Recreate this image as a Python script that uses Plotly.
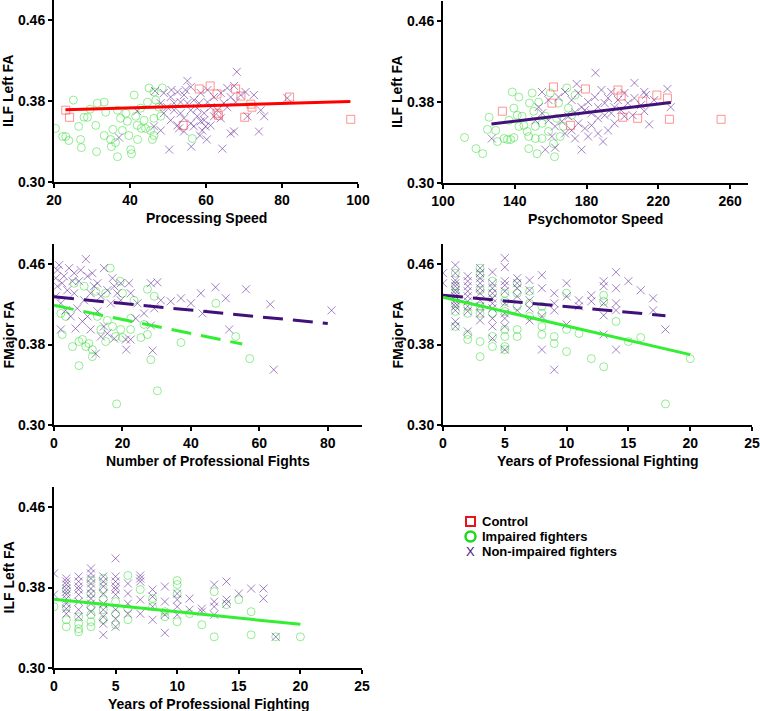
import plotly.graph_objects as go

# ---- Panel 1: Processing Speed vs ILF Left FA ----
p1_control = [(23.1, 0.371), (24.1, 0.364), (58.2, 0.392), (61.1, 0.395), (62.9, 0.387),
              (67.8, 0.392), (69.2, 0.385), (71.8, 0.377), (72.1, 0.374), (70.2, 0.364),
              (62.9, 0.368), (82.0, 0.384), (98.1, 0.362), (54.0, 0.356), (63.3, 0.366)]
p1_impaired = [(20.4, 0.353), (23.1, 0.345), (23.9, 0.341), (25.1, 0.381), (27.0, 0.342),
               (27.2, 0.334), (27.9, 0.364), (28.8, 0.364), (31.0, 0.356), (31.2, 0.330),
               (31.4, 0.378), (33.2, 0.379), (33.2, 0.346), (33.6, 0.369), (34.9, 0.342),
               (35.1, 0.335), (36.2, 0.339), (36.7, 0.325), (36.7, 0.371), (37.5, 0.363),
               (38.0, 0.351), (38.9, 0.368), (39.3, 0.360), (39.7, 0.346), (40.2, 0.332),
               (40.4, 0.328), (41.1, 0.386), (41.5, 0.365), (41.9, 0.356), (42.8, 0.373),
               (43.0, 0.353), (43.7, 0.361), (44.1, 0.353), (44.6, 0.379), (45.0, 0.393),
               (45.4, 0.351), (45.9, 0.342), (46.3, 0.346), (46.8, 0.381), (46.3, 0.389),
               (47.6, 0.374), (48.1, 0.365), (48.5, 0.393), (46.3, 0.363), (56.4, 0.343),
               (22.3, 0.345), (26.5, 0.355), (29.5, 0.372), (35.5, 0.352), (42.0, 0.342)]
p1_nonimpaired = [(68.1, 0.409), (55.1, 0.400), (46.6, 0.390), (48.9, 0.388), (50.7, 0.384),
                  (52.5, 0.389), (54.2, 0.386), (56.0, 0.394), (56.8, 0.381), (58.6, 0.388),
                  (60.4, 0.391), (62.1, 0.384), (63.9, 0.388), (65.6, 0.393), (66.5, 0.384),
                  (67.8, 0.379), (69.1, 0.386), (72.6, 0.386), (74.4, 0.371), (75.3, 0.365),
                  (73.9, 0.350), (70.9, 0.365), (81.4, 0.383), (66.5, 0.348), (67.4, 0.350),
                  (64.3, 0.333), (60.2, 0.342), (58.4, 0.346), (56.1, 0.335), (50.3, 0.332),
                  (48.1, 0.351), (46.3, 0.355), (49.8, 0.374), (51.6, 0.371), (53.3, 0.368),
                  (50.7, 0.361), (52.5, 0.356), (54.2, 0.363), (56.0, 0.358), (57.7, 0.365),
                  (58.6, 0.360), (59.9, 0.355), (59.0, 0.351), (57.7, 0.373), (59.5, 0.368),
                  (61.2, 0.374), (63.0, 0.371), (64.7, 0.378), (65.6, 0.374), (63.9, 0.363),
                  (62.1, 0.365), (60.4, 0.379), (55.1, 0.378), (53.3, 0.379), (51.6, 0.378),
                  (48.9, 0.368), (48.1, 0.378), (56.0, 0.371), (54.2, 0.350), (52.9, 0.353),
                  (56.8, 0.355), (41.9, 0.370), (37.1, 0.344), (67.4, 0.395), (70.4, 0.389),
                  (61.2, 0.356), (59.5, 0.361), (58.2, 0.378), (54.6, 0.391), (50.9, 0.391)]
p1_fit_x = [23, 98]
p1_fit_y = [0.3715, 0.3795]

# ---- Panel 2: Psychomotor Speed vs ILF Left FA ----
p2_control = [(133.1, 0.371), (161.6, 0.395), (160.7, 0.379), (179.4, 0.393), (197.5, 0.392),
              (199.3, 0.386), (200.2, 0.365), (208.5, 0.364), (211.3, 0.381), (219.2, 0.387),
              (225.1, 0.384), (226.2, 0.363), (255.0, 0.363), (171.0, 0.357)]
p2_impaired = [(112.0, 0.345), (118.4, 0.334), (122.1, 0.329), (125.7, 0.365), (124.8, 0.353),
               (129.4, 0.352), (130.3, 0.341), (134.0, 0.344), (135.9, 0.343), (137.7, 0.343),
               (139.5, 0.345), (138.6, 0.390), (139.5, 0.374), (141.4, 0.367), (142.3, 0.385),
               (144.1, 0.366), (145.1, 0.357), (146.9, 0.351), (147.8, 0.334), (148.2, 0.379),
               (149.7, 0.389), (150.6, 0.371), (151.5, 0.344), (152.4, 0.329), (153.3, 0.380),
               (155.2, 0.359), (157.0, 0.366), (158.8, 0.351), (159.8, 0.389), (161.6, 0.339),
               (162.2, 0.326), (163.4, 0.364), (164.4, 0.379), (165.3, 0.346), (167.1, 0.356),
               (169.0, 0.394), (169.9, 0.374), (171.7, 0.367), (173.6, 0.387), (142.3, 0.356),
               (136.8, 0.362), (147.8, 0.346), (155.2, 0.344), (151.5, 0.356)]
p2_nonimpaired = [(127.2, 0.344), (185.0, 0.409), (174.5, 0.398), (206.7, 0.399), (225.1, 0.393),
                  (226.9, 0.375), (214.9, 0.358), (155.2, 0.390), (157.0, 0.333), (162.5, 0.335),
                  (177.2, 0.333), (189.2, 0.341), (180.9, 0.346), (186.4, 0.349), (192.0, 0.352),
                  (195.6, 0.359), (199.3, 0.372), (203.0, 0.379), (206.7, 0.384), (210.3, 0.377),
                  (213.1, 0.387), (212.2, 0.371), (205.7, 0.367), (201.1, 0.366), (195.6, 0.375),
                  (192.0, 0.384), (188.3, 0.392), (184.6, 0.385), (180.9, 0.380), (177.2, 0.375),
                  (173.6, 0.370), (169.9, 0.366), (166.2, 0.361), (162.5, 0.356), (158.8, 0.362),
                  (155.2, 0.369), (153.3, 0.375), (158.8, 0.382), (164.4, 0.385), (168.0, 0.390),
                  (171.7, 0.382), (175.4, 0.389), (179.1, 0.372), (182.8, 0.369), (186.4, 0.364),
                  (190.1, 0.367), (193.8, 0.369), (197.5, 0.382), (182.8, 0.357), (179.1, 0.354),
                  (175.4, 0.359), (171.7, 0.352), (168.0, 0.349), (173.6, 0.344), (151.5, 0.362),
                  (160.7, 0.346), (190.1, 0.379), (186.4, 0.375), (193.8, 0.390), (201.1, 0.389),
                  (212.2, 0.390), (217.7, 0.382)]
p2_fit_x = [127, 227]
p2_fit_y = [0.3583, 0.3797]

# ---- Panel 3: Number of Professional Fights vs FMajor FA ----
p3_impaired = [(16.4, 0.456), (19.3, 0.443), (20.0, 0.431), (15.1, 0.431), (12.2, 0.433),
               (8.8, 0.438), (5.9, 0.441), (2.0, 0.411), (3.4, 0.408), (2.4, 0.390),
               (8.3, 0.385), (7.3, 0.383), (5.4, 0.378), (9.3, 0.378), (10.2, 0.381),
               (11.2, 0.375), (11.2, 0.368), (7.3, 0.359), (15.1, 0.383), (18.0, 0.388),
               (20.0, 0.387), (22.4, 0.395), (25.4, 0.387), (27.3, 0.390), (28.3, 0.365),
               (30.2, 0.334), (37.1, 0.382), (47.3, 0.421), (53.1, 0.388), (57.2, 0.366),
               (27.3, 0.435), (29.3, 0.428), (23.4, 0.424), (17.1, 0.398), (15.6, 0.404),
               (12.7, 0.408), (22.4, 0.406), (26.3, 0.400), (13.7, 0.395), (19.5, 0.395),
               (18.3, 0.321)]
p3_nonimpaired = [(9.3, 0.465), (1.5, 0.459), (1.0, 0.454), (2.9, 0.448), (4.4, 0.456),
                  (5.9, 0.451), (7.3, 0.443), (7.8, 0.454), (11.2, 0.451), (12.7, 0.441),
                  (14.6, 0.456), (17.1, 0.446), (17.6, 0.438), (19.5, 0.441), (21.9, 0.441),
                  (22.4, 0.431), (28.3, 0.441), (30.2, 0.442), (34.1, 0.423), (37.1, 0.426),
                  (40.0, 0.421), (42.9, 0.431), (43.4, 0.411), (47.2, 0.437), (50.2, 0.426),
                  (56.1, 0.435), (63.2, 0.420), (81.1, 0.414), (51.2, 0.395), (64.2, 0.355),
                  (28.8, 0.374), (21.1, 0.375), (12.2, 0.371), (6.3, 0.396), (2.0, 0.395),
                  (9.8, 0.408), (12.7, 0.413), (14.6, 0.398), (15.6, 0.391), (17.6, 0.386),
                  (21.0, 0.385), (23.9, 0.406), (26.3, 0.411), (28.3, 0.399), (29.3, 0.416),
                  (31.2, 0.424), (24.4, 0.421), (19.5, 0.424), (16.6, 0.421), (13.7, 0.428),
                  (10.7, 0.431), (8.8, 0.424), (5.9, 0.431), (3.9, 0.434), (2.4, 0.441),
                  (1.0, 0.438), (0.5, 0.446), (2.0, 0.421), (3.4, 0.414), (4.9, 0.408),
                  (8.3, 0.403), (10.7, 0.395), (13.7, 0.388), (6.8, 0.416), (0.5, 0.428),
                  (5.4, 0.443), (9.8, 0.448), (11.7, 0.438), (15.6, 0.434), (18.5, 0.431),
                  (22.4, 0.385)]
p3_fit_nonimp_x = [0, 80]
p3_fit_nonimp_y = [0.4275, 0.401]
p3_fit_imp_x = [0, 55]
p3_fit_imp_y = [0.419, 0.3805]

# ---- Panel 4: Years of Professional Fighting vs FMajor FA ----
p4_impaired = [(1, 0.451), (1, 0.438), (1, 0.431), (1, 0.421), (1, 0.413), (1, 0.398),
               (2, 0.419), (2, 0.411), (2, 0.390), (2, 0.385),
               (3, 0.456), (3, 0.449), (3, 0.434), (3, 0.418), (3, 0.411), (3, 0.383), (3, 0.368),
               (4, 0.443), (4, 0.431), (4, 0.411), (4, 0.388), (4, 0.378),
               (5, 0.431), (5, 0.423), (5, 0.413), (5, 0.395), (5, 0.388), (5, 0.378), (5, 0.375),
               (6, 0.441), (6, 0.431), (6, 0.418), (6, 0.395), (6, 0.388),
               (7, 0.433), (7, 0.421), (7, 0.408),
               (8, 0.418), (8, 0.411), (8, 0.398), (8, 0.390),
               (9, 0.388), (9, 0.381), (10, 0.431), (10, 0.395), (10, 0.373),
               (11, 0.391), (12, 0.366), (13, 0.429), (13, 0.423), (13, 0.358),
               (14, 0.403), (15, 0.383), (16, 0.387), (18, 0.321), (20, 0.366)]
p4_nonimpaired = [(0, 0.451), (0, 0.441),
                  (1, 0.459), (1, 0.451), (1, 0.444), (1, 0.441), (1, 0.438), (1, 0.434), (1, 0.431),
                  (1, 0.428), (1, 0.424), (1, 0.421), (1, 0.418), (1, 0.414), (1, 0.403), (1, 0.398),
                  (2, 0.448), (2, 0.443), (2, 0.438), (2, 0.433), (2, 0.428), (2, 0.423), (2, 0.418),
                  (2, 0.413), (2, 0.393),
                  (3, 0.456), (3, 0.451), (3, 0.446), (3, 0.441), (3, 0.436), (3, 0.431), (3, 0.424),
                  (3, 0.418), (3, 0.411), (3, 0.404),
                  (4, 0.452), (4, 0.441), (4, 0.436), (4, 0.431), (4, 0.426), (4, 0.421), (4, 0.416),
                  (4, 0.406), (4, 0.398), (4, 0.386),
                  (5, 0.466), (5, 0.457), (5, 0.443), (5, 0.439), (5, 0.433), (5, 0.421), (5, 0.411),
                  (5, 0.406), (5, 0.398), (5, 0.375),
                  (6, 0.446), (6, 0.441), (6, 0.436), (6, 0.428), (6, 0.414),
                  (7, 0.444), (7, 0.434), (7, 0.424), (7, 0.416), (7, 0.404),
                  (8, 0.449), (8, 0.436), (8, 0.408), (8, 0.375),
                  (9, 0.431), (9, 0.421), (9, 0.414), (9, 0.355),
                  (10, 0.441), (10, 0.428), (10, 0.400), (11, 0.424), (11, 0.418),
                  (12, 0.429), (12, 0.423),
                  (13, 0.443), (13, 0.438), (13, 0.421), (13, 0.409), (13, 0.390),
                  (14, 0.452), (14, 0.436), (14, 0.421), (14, 0.414), (14, 0.375),
                  (15, 0.443), (16, 0.434), (17, 0.426), (17, 0.414), (18, 0.395)]
p4_fit_nonimp_x = [0, 18]
p4_fit_nonimp_y = [0.429, 0.4087]
p4_fit_imp_x = [0, 20]
p4_fit_imp_y = [0.427, 0.370]

# ---- Panel 5: Years of Professional Fighting vs ILF Left FA ----
p5_impaired = [(0, 0.361), (1, 0.378), (1, 0.361), (1, 0.348), (1, 0.341),
               (2, 0.351), (2, 0.344), (2, 0.339), (2, 0.336),
               (3, 0.387), (3, 0.374), (3, 0.361), (3, 0.353), (3, 0.346), (3, 0.341),
               (4, 0.389), (4, 0.378), (4, 0.368), (4, 0.358), (4, 0.348),
               (5, 0.366), (5, 0.354), (5, 0.343), (6, 0.392), (6, 0.359), (6, 0.348),
               (7, 0.378), (8, 0.369), (8, 0.361), (9, 0.356), (9, 0.351),
               (10, 0.387), (10, 0.383), (10, 0.374), (10, 0.346), (11, 0.354), (12, 0.343),
               (13, 0.376), (13, 0.331), (14, 0.363), (15, 0.368), (16, 0.356), (16, 0.333),
               (18, 0.331), (20, 0.331)]
p5_nonimpaired = [(0, 0.394), (0, 0.373),
                  (1, 0.389), (1, 0.386), (1, 0.383), (1, 0.379), (1, 0.376), (1, 0.373), (1, 0.369),
                  (1, 0.364), (1, 0.359), (1, 0.354),
                  (2, 0.391), (2, 0.386), (2, 0.381), (2, 0.378), (2, 0.373), (2, 0.366), (2, 0.358),
                  (2, 0.351),
                  (3, 0.399), (3, 0.394), (3, 0.389), (3, 0.384), (3, 0.379), (3, 0.374), (3, 0.369),
                  (3, 0.364), (3, 0.356),
                  (4, 0.391), (4, 0.386), (4, 0.381), (4, 0.374), (4, 0.364), (4, 0.358), (4, 0.351),
                  (4, 0.344), (4, 0.333),
                  (5, 0.409), (5, 0.391), (5, 0.386), (5, 0.381), (5, 0.378), (5, 0.373), (5, 0.358),
                  (5, 0.349), (5, 0.341),
                  (6, 0.384), (6, 0.374), (6, 0.364), (6, 0.354),
                  (7, 0.392), (7, 0.389), (7, 0.386), (7, 0.368), (7, 0.354),
                  (8, 0.378), (8, 0.371), (8, 0.361), (8, 0.348),
                  (9, 0.381), (9, 0.366), (9, 0.353), (9, 0.335),
                  (10, 0.374), (10, 0.368), (10, 0.361), (10, 0.353),
                  (11, 0.369), (11, 0.358), (12, 0.359), (12, 0.356),
                  (13, 0.383), (13, 0.366), (13, 0.361), (13, 0.353),
                  (14, 0.386), (14, 0.368), (14, 0.364), (15, 0.374), (16, 0.379),
                  (17, 0.379), (17, 0.369), (18, 0.331)]
p5_fit_imp_x = [0, 20]
p5_fit_imp_y = [0.3683, 0.3434]

legend_labels = ["Control", "Impaired fighters", "Non-impaired fighters"]

# ---- styling ----
W, H = 760, 711
FONT = "Liberation Sans, Arial, sans-serif"
RED_MK = "rgba(255, 60, 60, 0.55)"
GREEN_MK = "rgba(40, 220, 40, 0.5)"
PURPLE_MK = "rgba(90, 30, 150, 0.55)"
RED_LINE = "#FF0000"
GREEN_LINE = "#33EE33"
PURPLE_LINE = "#42107A"

# panel boxes in pixels: (left, right, top, bottom)
BOXES = {
    1: (54, 358, 0, 182),
    2: (443, 748, 1, 183),
    3: (54, 362, 244, 425),
    4: (443, 752, 244, 425),
    5: (54, 362, 487, 668),
}


def _split(points):
    return [p[0] for p in points], [p[1] for p in points]


def _scatter(points, symbol, color, ax):
    xs, ys = _split(points)
    return go.Scatter(
        x=xs, y=ys, mode="markers", xaxis=f"x{ax}", yaxis=f"y{ax}", showlegend=False,
        marker=dict(symbol=symbol, size=8, color=color, line=dict(color=color, width=1)),
        hoverinfo="x+y",
    )


def _fit(xs, ys, color, ax, dash="solid"):
    return go.Scatter(
        x=xs, y=ys, mode="lines", xaxis=f"x{ax}", yaxis=f"y{ax}", showlegend=False,
        line=dict(color=color, width=3, dash=dash), hoverinfo="skip",
    )


fig = go.Figure()

fig.add_trace(_scatter(p1_impaired, "circle-open", GREEN_MK, 1))
fig.add_trace(_scatter(p1_nonimpaired, "x-thin-open", PURPLE_MK, 1))
fig.add_trace(_scatter(p1_control, "square-open", RED_MK, 1))
fig.add_trace(_fit(p1_fit_x, p1_fit_y, RED_LINE, 1))

fig.add_trace(_scatter(p2_impaired, "circle-open", GREEN_MK, 2))
fig.add_trace(_scatter(p2_nonimpaired, "x-thin-open", PURPLE_MK, 2))
fig.add_trace(_scatter(p2_control, "square-open", RED_MK, 2))
fig.add_trace(_fit(p2_fit_x, p2_fit_y, PURPLE_LINE, 2))

fig.add_trace(_scatter(p3_impaired, "circle-open", GREEN_MK, 3))
fig.add_trace(_scatter(p3_nonimpaired, "x-thin-open", PURPLE_MK, 3))
fig.add_trace(_fit(p3_fit_nonimp_x, p3_fit_nonimp_y, PURPLE_LINE, 3, dash="20px,10px"))
fig.add_trace(_fit(p3_fit_imp_x, p3_fit_imp_y, GREEN_LINE, 3, dash="20px,10px"))

fig.add_trace(_scatter(p4_impaired, "circle-open", GREEN_MK, 4))
fig.add_trace(_scatter(p4_nonimpaired, "x-thin-open", PURPLE_MK, 4))
fig.add_trace(_fit(p4_fit_nonimp_x, p4_fit_nonimp_y, PURPLE_LINE, 4, dash="20px,10px"))
fig.add_trace(_fit(p4_fit_imp_x, p4_fit_imp_y, GREEN_LINE, 4))

fig.add_trace(_scatter(p5_impaired, "circle-open", GREEN_MK, 5))
fig.add_trace(_scatter(p5_nonimpaired, "x-thin-open", PURPLE_MK, 5))
fig.add_trace(_fit(p5_fit_imp_x, p5_fit_imp_y, GREEN_LINE, 5))

x_setup = {
    1: ("Processing Speed", [20, 100], [20, 40, 60, 80, 100]),
    2: ("Psychomotor Speed", [100, 270], [100, 140, 180, 220, 260]),
    3: ("Number of Professional Fights", [0, 90], [0, 20, 40, 60, 80]),
    4: ("Years of Professional Fighting", [0, 25], [0, 5, 10, 15, 20, 25]),
    5: ("Years of Professional Fighting", [0, 25], [0, 5, 10, 15, 20, 25]),
}
y_titles = {1: "ILF Left FA", 2: "ILF Left FA", 3: "FMajor FA", 4: "FMajor FA", 5: "ILF Left FA"}

tick_font = dict(family=FONT, size=14, color="black", weight="bold")
layout_axes = {}
annotations = []
for i, (l, r, t, b) in BOXES.items():
    title, xr, xt = x_setup[i]
    sfx = "" if i == 1 else str(i)
    layout_axes[f"xaxis{sfx}"] = dict(
        domain=[l / W, r / W], anchor=f"y{i}", range=xr, tickvals=xt, automargin=False,
        showline=True, linecolor="black", linewidth=2, ticks="outside", ticklen=4,
        tickwidth=2, tickcolor="black", showgrid=False, zeroline=False, tickfont=tick_font,
    )
    layout_axes[f"yaxis{sfx}"] = dict(
        domain=[1 - b / H, 1 - t / H], anchor=f"x{i}", range=[0.30, 0.48], automargin=False,
        tickvals=[0.30, 0.38, 0.46], tickformat=".2f",
        showline=True, linecolor="black", linewidth=2, ticks="outside", ticklen=4,
        tickwidth=2, tickcolor="black", showgrid=False, zeroline=False, tickfont=tick_font,
    )
    # axis titles as annotations for exact placement
    annotations.append(dict(
        text=title, xref="paper", yref="paper", x=(l + r) / 2 / W, y=1 - (b + 36) / H,
        xanchor="center", yanchor="middle", showarrow=False, font=tick_font,
    ))
    annotations.append(dict(
        text=y_titles[i], xref="paper", yref="paper", x=(l - 46) / W, y=1 - (t + b) / 2 / H,
        xanchor="center", yanchor="middle", showarrow=False, font=tick_font, textangle=-90,
    ))

# hand-drawn legend (tight row spacing as in the original)
LEG_X, LEG_Y0, LEG_DY = 470.5, 521.5, 15
shapes = [
    dict(type="rect", xref="paper", yref="paper",
         x0=(LEG_X - 4.5) / W, x1=(LEG_X + 4.5) / W,
         y0=1 - (LEG_Y0 + 4.5) / H, y1=1 - (LEG_Y0 - 4.5) / H,
         line=dict(color="#E8141A", width=2)),
    dict(type="circle", xref="paper", yref="paper",
         x0=(LEG_X - 5) / W, x1=(LEG_X + 5) / W,
         y0=1 - (LEG_Y0 + LEG_DY + 5) / H, y1=1 - (LEG_Y0 + LEG_DY - 5) / H,
         line=dict(color="#1FD81F", width=2.5)),
]
annotations.append(dict(
    text="X", xref="paper", yref="paper", x=LEG_X / W, y=1 - (LEG_Y0 + 2 * LEG_DY) / H,
    xanchor="center", yanchor="middle", showarrow=False,
    font=dict(family=FONT, size=13, color="#4B1585"),
))
for k, lab in enumerate(legend_labels):
    annotations.append(dict(
        text=lab, xref="paper", yref="paper", x=480 / W, y=1 - (LEG_Y0 + k * LEG_DY) / H,
        xanchor="left", yanchor="middle", showarrow=False,
        font=dict(family=FONT, size=13, color="black", weight="bold"),
    ))

fig.update_layout(
    width=W, height=H,
    margin=dict(l=0, r=0, t=0, b=0),
    paper_bgcolor="white", plot_bgcolor="white",
    showlegend=False,
    annotations=annotations,
    shapes=shapes,
    **layout_axes,
)

# the page's default 8px body margin would shift the whole figure
fig.write_html("out.html", config={"displayModeBar": False},
               post_script="document.body.style.margin='0';")
